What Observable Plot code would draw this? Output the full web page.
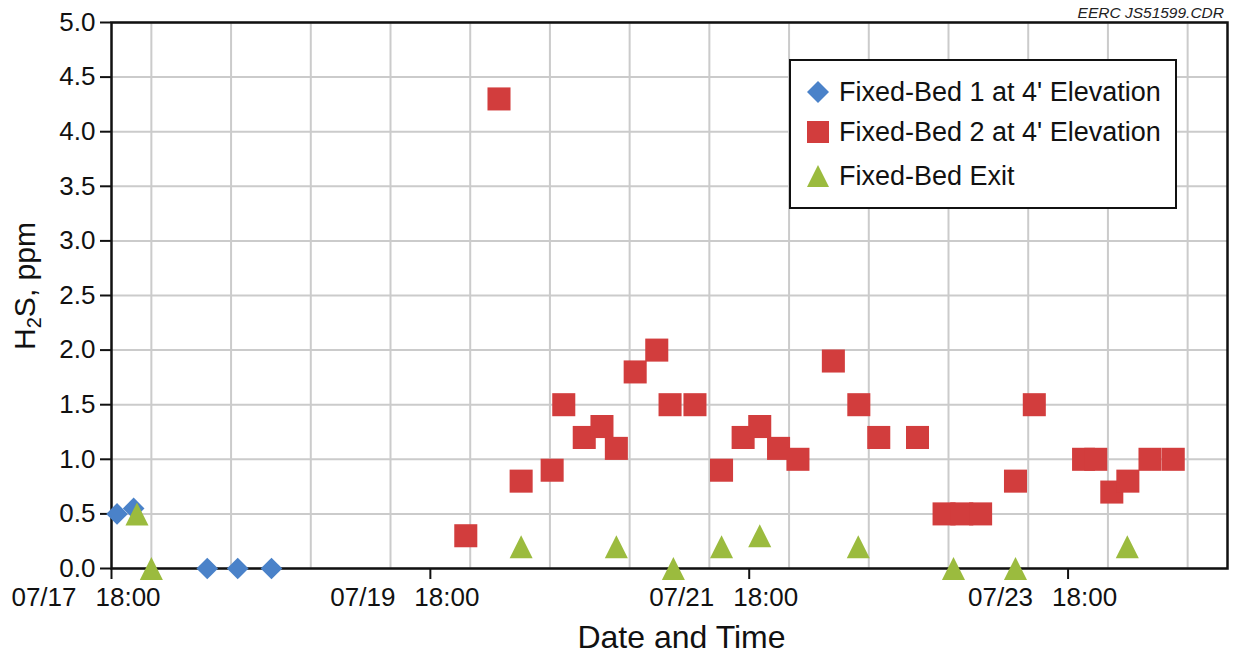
<!DOCTYPE html>
<html><head><meta charset="utf-8">
<script src="https://cdn.jsdelivr.net/npm/d3@7"></script>
<script src="https://cdn.jsdelivr.net/npm/@observablehq/plot@0.6"></script>
<style>
body{margin:0;background:#fff;font-family:"Liberation Sans",Arial,sans-serif;}
#wrap{position:relative;width:1233px;height:657px;overflow:hidden;}
#wrap > svg{position:absolute;left:0;top:0;}
.ylab{position:absolute;left:25px;top:286px;transform:translate(-50%,-50%) rotate(-90deg);font-size:30px;white-space:nowrap;color:#111;}
.ylab sub{font-size:20px;vertical-align:-6px;line-height:0;}
.legend{position:absolute;left:789px;top:59px;width:384px;height:146px;border:2px solid #111;background:#fff;}
.row{position:absolute;left:0;height:40px;display:flex;align-items:center;font-size:27px;color:#111;white-space:nowrap;}
#wrap .row svg{position:static;margin-left:16px;margin-right:10px;flex:none;}
.note{position:absolute;right:9px;top:4px;font-size:15.5px;font-style:italic;color:#222;}
</style></head><body><div id="wrap"></div>
<script>
// ---- data ----
const xStart = "07/17 18:00";
const xEnd = "07/24 18:00";
const xTickDays = ["07/17", "07/19", "07/21", "07/23"];
const xTickTime = "18:00";
const yTicks = [0, 0.5, 1, 1.5, 2, 2.5, 3, 3.5, 4, 4.5, 5];

const bed1Time = ["07/17 18:50", "07/17 21:20", "07/18 08:25", "07/18 13:00", "07/18 18:05"];
const bed1H2S = [0.5, 0.55, 0, 0, 0];

const bed2Time = ["07/19 23:20", "07/20 04:20", "07/20 07:40", "07/20 12:20", "07/20 14:05", "07/20 17:10",
  "07/20 19:50", "07/20 22:00", "07/21 00:50", "07/21 04:05", "07/21 06:05", "07/21 09:50",
  "07/21 13:50", "07/21 17:05", "07/21 19:35", "07/21 22:25", "07/22 01:20", "07/22 06:40",
  "07/22 10:30", "07/22 13:30", "07/22 19:20", "07/22 23:20", "07/23 02:00", "07/23 04:50",
  "07/23 10:05", "07/23 12:55", "07/23 20:20", "07/23 22:10", "07/24 00:35", "07/24 03:00",
  "07/24 06:20", "07/24 09:50"];
const bed2H2S = [0.3, 4.3, 0.8, 0.9, 1.5, 1.2,
  1.3, 1.1, 1.8, 2.0, 1.5, 1.5,
  0.9, 1.2, 1.3, 1.1, 1.0, 1.9,
  1.5, 1.2, 1.2, 0.5, 0.5, 0.5,
  0.8, 1.5, 1.0, 1.0, 0.7, 0.8,
  1.0, 1.0];

const exitTime = ["07/17 21:50", "07/18 00:00", "07/20 07:40", "07/20 22:00", "07/21 06:35", "07/21 13:50",
  "07/21 19:35", "07/22 10:25", "07/23 00:45", "07/23 10:05", "07/24 02:55"];
const exitH2S = [0.5, 0, 0.2, 0.2, 0, 0.2, 0.3, 0.2, 0, 0, 0.2];

const seriesNames = ["Fixed-Bed 1 at 4' Elevation", "Fixed-Bed 2 at 4' Elevation", "Fixed-Bed Exit"];
const colors = ["#4a82c9", "#d23d3d", "#9bbb3e"];

// ---- helpers ----
const parse = s => {
  const [md, hm] = s.split(" ");
  const [mo, da] = md.split("/").map(Number);
  const [h, mi] = hm.split(":").map(Number);
  return new Date(Date.UTC(2010, mo - 1, da, h, mi));
};
const rows = (times, vals) => times.map((t, i) => ({t: parse(t), v: vals[i]}));
const bed1 = rows(bed1Time, bed1H2S);
const bed2 = rows(bed2Time, bed2H2S);
const exit = rows(exitTime, exitH2S);

const x0 = parse(xStart), x1 = parse(xEnd);
const gridTimes = d3.utcHour.every(12).range(x0, new Date(+x1 + 1));
const tickDates = xTickDays.map(d => parse(d + " " + xTickTime));
const tickInfo = xTickDays.map((d, i) => ({t: tickDates[i], day: d, time: xTickTime}));

const square = {draw(c, size) { const h = Math.sqrt(size) / 2; c.rect(-h, -h, 2 * h, 2 * h); }};
const diamond = {draw(c, size) { const h = Math.sqrt(size) * 0.47; c.moveTo(0, -h); c.lineTo(h, 0); c.lineTo(0, h); c.lineTo(-h, 0); c.closePath(); }};
const triangle = {draw(c, size) { const h = Math.sqrt(size) / 2; c.moveTo(0, -h); c.lineTo(h, h); c.lineTo(-h, h); c.closePath(); }};

const chart = Plot.plot({
  width: 1233, height: 657,
  marginLeft: 111, marginRight: 6, marginTop: 22, marginBottom: 89,
  style: {fontFamily: "'Liberation Sans', Arial, sans-serif", fontSize: "26px", background: "white", color: "#111"},
  x: {type: "utc", domain: [x0, x1]},
  y: {domain: [0, 5]},
  marks: [
    Plot.gridX(gridTimes, {stroke: "#cbcbcb", strokeOpacity: 1, strokeWidth: 2}),
    Plot.gridY(yTicks, {stroke: "#cbcbcb", strokeOpacity: 1, strokeWidth: 2}),
    Plot.axisY(yTicks, {tickFormat: d3.format(".1f"), tickSize: 11, tickPadding: 5, strokeWidth: 2, label: null, fontSize: 26}),
    Plot.axisX(tickDates, {tickFormat: () => "", tickSize: 11, strokeWidth: 2, label: null}),
    Plot.text(tickInfo, {x: "t", text: "day", frameAnchor: "bottom", dy: 37, dx: -35, textAnchor: "end", fontSize: 26}),
    Plot.text(tickInfo, {x: "t", text: "time", frameAnchor: "bottom", dy: 37, dx: -16, textAnchor: "start", fontSize: 26}),
    Plot.text(["Date and Time"], {frameAnchor: "bottom", dx: 12, dy: 79, fontSize: 32}),
    Plot.frame({stroke: "#111", strokeWidth: 2.5}),
    Plot.dot(bed1, {x: "t", y: "v", symbol: diamond, r: 13, fill: colors[0], stroke: "none"}),
    Plot.dot(bed2, {x: "t", y: "v", symbol: square, r: 13, fill: colors[1], stroke: "none"}),
    Plot.dot(exit, {x: "t", y: "v", symbol: triangle, r: 13, fill: colors[2], stroke: "none"})
  ]
});

const wrap = document.getElementById("wrap");
wrap.appendChild(chart);

// y label with subscript
const yl = document.createElement("div");
yl.className = "ylab";
yl.innerHTML = "H<sub>2</sub>S, ppm";
wrap.appendChild(yl);

// note
const note = document.createElement("div");
note.className = "note";
note.textContent = "EERC JS51599.CDR";
wrap.appendChild(note);

// legend
const shapes = [
  c => `<path d="M11,0 L22,11 L11,22 L0,11 Z" fill="${c}"/>`,
  c => `<rect x="0" y="0" width="22" height="22" fill="${c}"/>`,
  c => `<path d="M11,0 L22,22 L0,22 Z" fill="${c}"/>`
];
const lg = document.createElement("div");
lg.className = "legend";
const rowTops = [11, 51, 95];
seriesNames.forEach((name, i) => {
  const r = document.createElement("div");
  r.className = "row";
  r.style.top = rowTops[i] + "px";
  r.innerHTML = `<svg width="22" height="22" viewBox="0 0 22 22">${shapes[i](colors[i])}</svg><span>${name}</span>`;
  lg.appendChild(r);
});
wrap.appendChild(lg);
</script></body></html>
